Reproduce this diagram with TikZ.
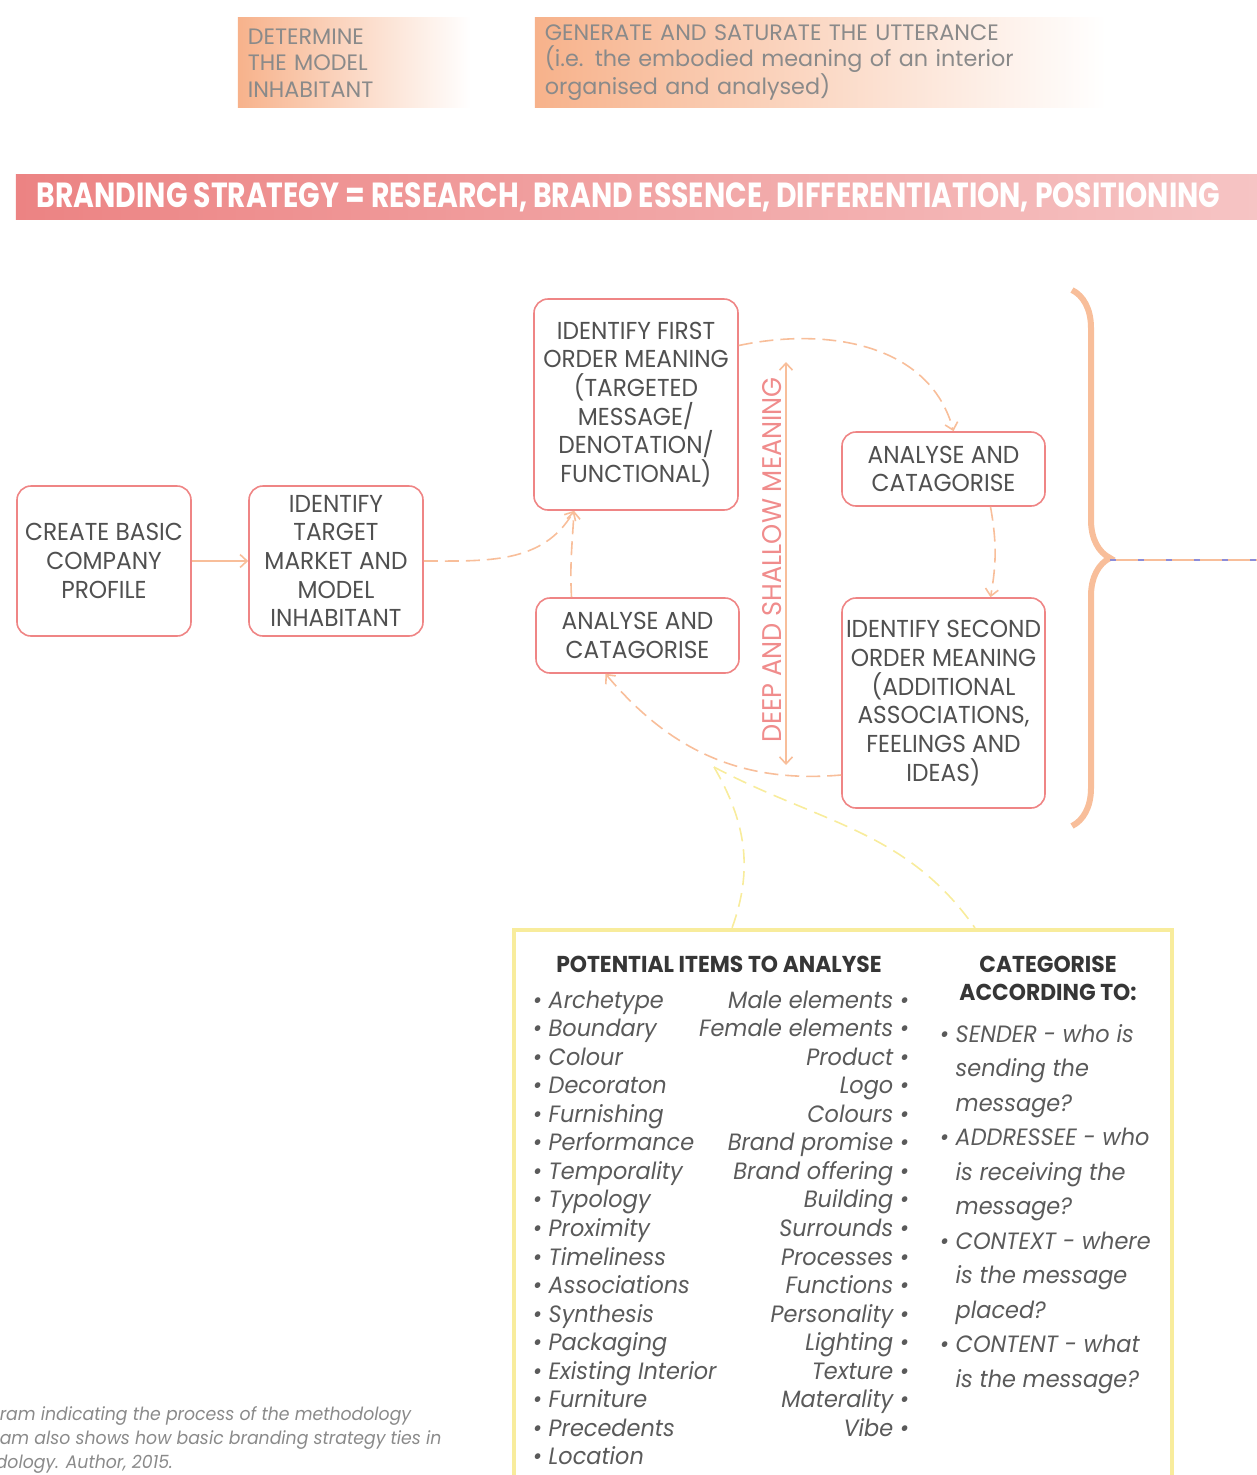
\documentclass[tikz,border=0pt]{standalone}
\usepackage{fontspec}
\setmainfont[FakeStretch=0.95]{Poppins}
\newfontfamily\bannerfont[FakeStretch=0.81]{Poppins}
\newfontfamily\hdrfont{Poppins}
\usetikzlibrary{arrows.meta,positioning,decorations.pathreplacing,calc}
\definecolor{boxline}{HTML}{EF8585}
\definecolor{boxtext}{HTML}{505050}
\definecolor{hdrtext}{HTML}{8A8A8A}
\definecolor{hdrorange}{HTML}{F7B28B}
\definecolor{peach}{HTML}{F8BE9A}
\definecolor{bannerL}{HTML}{EC8383}
\definecolor{bannerR}{HTML}{F6C4C4}
\definecolor{deeppink}{HTML}{F08C8C}
\definecolor{yel}{HTML}{F8EC9C}
\definecolor{itemtext}{HTML}{5A5A5A}
\definecolor{headtext}{HTML}{363636}
\definecolor{briefblue}{HTML}{8C8CD8}
\tikzset{
  every picture/.style={line width=1.6pt},
  stepbox/.style={draw=boxline, rounded corners=14pt, fill=white, align=center, text=boxtext, inner sep=2pt, font=\fontsize{24.5}{28.7}\selectfont},
  hdr/.style={anchor=north west, minimum height=90pt, inner xsep=10pt, inner ysep=0pt, left color=hdrorange, right color=white, align=left, text=hdrtext, font=\hdrfont\fontsize{22.3}{26.5}\selectfont},
  banner/.style={anchor=north west, minimum width=1242pt, minimum height=45pt, inner sep=0pt, left color=bannerL, right color=bannerR},
  bannertxt/.style={anchor=west, inner sep=0pt, text=white, font=\bannerfont\bfseries\fontsize{34.9}{38}\selectfont},
  flow/.style={draw=peach, -{Straight Barb[length=7pt,width=13pt]}},
  flowd/.style={flow, dash pattern=on 14pt off 7pt},
  depth/.style={draw=peach, {Straight Barb[length=7pt,width=13pt]}-{Straight Barb[length=7pt,width=13pt]}},
  deeplbl/.style={text=deeppink, inner sep=0pt, font=\fontsize{27}{30}\selectfont},
  bigbrace/.style={draw=peach, line width=6pt, decorate, decoration={brace, amplitude=38pt}},
  yelline/.style={draw=yel, dash pattern=on 14pt off 8pt},
  item/.style={inner sep=0pt, text=itemtext, font=\itshape\fontsize{23.6}{28}\selectfont},
  itemhead/.style={inner sep=0pt, align=center, text=headtext, font=\bfseries\fontsize{23}{28}\selectfont},
  caption/.style={anchor=base west, inner sep=0pt, text=hdrtext, font=\itshape\fontsize{18.2}{24}\selectfont}
}

\begin{document}
\begin{tikzpicture}[x=1pt, y=-1pt]
  \useasboundingbox (0,0) rectangle (1257,1475);

  % headers
  \node[hdr, minimum width=233pt, text width=213pt] (model) at (237,17) {DETERMINE\\THE MODEL\\INHABITANT};
  \node[hdr, minimum width=571pt, text width=551pt] (utter) at (534,17) {GENERATE AND SATURATE THE UTTERANCE\\(i.e. the embodied meaning of an interior\\organised and analysed)};

  \node[banner] (brand) at (15,174) {};
  \node[bannertxt] (brandtxt) at ([xshift=21pt]brand.west) {BRANDING STRATEGY = RESEARCH, BRAND ESSENCE, DIFFERENTIATION, POSITIONING};

  % steps
  \node[stepbox, minimum width=174pt, minimum height=150pt] (profile) at (104,561) {CREATE BASIC\\COMPANY\\PROFILE};
  \node[stepbox, minimum width=174pt, minimum height=150pt] (target) at (336,561) {IDENTIFY\\TARGET\\MARKET AND\\MODEL\\INHABITANT};
  \node[stepbox, minimum width=204pt, minimum height=211pt] (first) at (636,404.5) {IDENTIFY FIRST\\ORDER MEANING\\(TARGETED\\MESSAGE/\\DENOTATION/\\FUNCTIONAL)};
  \node[stepbox, minimum width=203pt, minimum height=75pt] (sortA) at (637.5,635.5) {ANALYSE AND\\CATAGORISE};
  \node[stepbox, minimum width=203pt, minimum height=74pt] (sortB) at (943.5,469) {ANALYSE AND\\CATAGORISE};
  \node[stepbox, minimum width=203pt, minimum height=210pt] (second) at (943.5,703) {IDENTIFY SECOND\\ORDER MEANING\\(ADDITIONAL\\ASSOCIATIONS,\\FEELINGS AND\\IDEAS)};

  \draw[flow] (profile) -- (target);
  \draw[flowd] (target.east) to[out=0, in=-120] ([xshift=-62pt]first.south);
  \draw[flowd] ([xshift=-66pt]sortA.north) to[out=93, in=-93] ([xshift=-62pt]first.south);
  \draw[flowd] ([yshift=59pt]first.east) to[out=12, in=105] ([xshift=10pt]sortB.north);
  \draw[flowd] ([xshift=47pt]sortB.south) to[out=-80, in=80] ([xshift=47pt]second.north);
  \draw[flowd] ([yshift=-72pt]second.west) to[out=185, in=-50] ([xshift=-32pt]sortA.south);

  % deep and shallow
  \coordinate (deeptop) at (786,362);
  \coordinate (deepbot) at (786,765);
  \draw[depth] (deeptop) -- (deepbot);
  \node[deeplbl, rotate=90] (deep) at (772,560) {DEEP AND SHALLOW MEANING};

  % brace and brief line
  \coordinate (bracetop) at (1072,290);
  \coordinate (bracebot) at (1072,826);
  \coordinate (bracetip) at (1110,560);
  \coordinate (briefout) at (1257,560);
  \draw[bigbrace] (bracetop) -- (bracebot);
  \draw[draw=peach, line width=1.2pt] (bracetip) -- (briefout);
  \draw[draw=briefblue, line width=1.2pt, dash pattern=on 6pt off 22pt] (bracetip) -- (briefout);

  % items box
  \node[draw=yel, line width=4pt, anchor=north west, minimum width=658pt, minimum height=600pt] (items) at (512,928) {};
  \coordinate (fork) at (714,767);
  \draw[yelline] (fork) to[out=-60, in=70] ([xshift=-111pt]items.north);
  \draw[yelline] (fork) to[out=-28, in=125] ([xshift=132pt]items.north);

  \node[itemhead] (pothead) at (719,964) {POTENTIAL ITEMS TO ANALYSE};
  \node[itemhead] (cathead) at (1048,978) {CATEGORISE\\ACCORDING TO:};

  \foreach \name [count=\i] in {Archetype, Boundary, Colour, Decoraton, Furnishing, Performance, Temporality, Typology, Proximity, Timeliness, Associations, Synthesis, Packaging, Existing Interior, Furniture, Precedents, Location}
    \node[item, anchor=base west] (left\i) at (532,{1008+28.56*(\i-1)}) {\textbullet\ \name};

  \foreach \name [count=\i] in {Male elements, Female elements, Product, Logo, Colours, Brand promise, Brand offering, Building, Surrounds, Processes, Functions, Personality, Lighting, Texture, Materality, Vibe}
    \node[item, anchor=base east] (right\i) at (910,{1008+28.56*(\i-1)}) {\name\ \textbullet};

  \foreach \line [count=\i] in {{\textbullet\ SENDER - who is}, {\phantom{\textbullet\ }sending the}, {\phantom{\textbullet\ }message?}, {\textbullet\ ADDRESSEE - who}, {\phantom{\textbullet\ }is receiving the}, {\phantom{\textbullet\ }message?}, {\textbullet\ CONTEXT - where}, {\phantom{\textbullet\ }is the message}, {\phantom{\textbullet\ }placed?}, {\textbullet\ CONTENT - what}, {\phantom{\textbullet\ }is the message?}}
    \node[item, anchor=base west] (cat\i) at (939,{1042+34.55*(\i-1)}) {\line};

  % caption
  \node[caption] (capA) at (-1,1420) {ram indicating the process of the methodology};
  \node[caption] (capB) at (-1,1444) {am also shows how basic branding strategy ties in};
  \node[caption] (capC) at (-5,1468) {dology. Author, 2015.};
\end{tikzpicture}
\end{document}
